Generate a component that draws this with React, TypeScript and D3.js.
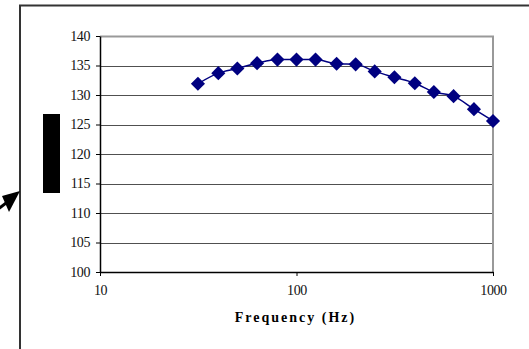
import * as React from 'react';
import * as d3 from 'd3';

// 1/3 octave band centre frequencies (Hz) and measured levels
const frequencies = [31.5, 40, 50, 63, 80, 100, 125, 160, 200, 250, 315, 400, 500, 630, 800, 1000];
const levels = [131.9, 133.7, 134.5, 135.4, 136.0, 136.0, 136.0, 135.3, 135.2, 134.0, 133.0, 132.0, 130.5, 129.8, 127.6, 125.6];
const xTicks = [10, 100, 1000];
const yTicks = [100, 105, 110, 115, 120, 125, 130, 135, 140];

export default function App() {
  const ref = React.useRef<SVGSVGElement>(null);
  const width = 529;
  const height = 349;
  const margin = { top: 36, right: 36, bottom: 77, left: 100 };
  const innerWidth = width - margin.left - margin.right;
  const innerHeight = height - margin.top - margin.bottom;

  React.useEffect(() => {
    const svg = d3.select(ref.current);
    svg.selectAll('*').remove();

    const font = '"Liberation Serif", "Times New Roman", serif';

    // outer frame
    svg.append('rect')
      .attr('x', 20).attr('y', 5.5)
      .attr('width', 540).attr('height', 400)
      .attr('fill', 'white')
      .attr('stroke', '#333').attr('stroke-width', 2);

    // black block on the left
    svg.append('rect')
      .attr('x', 43).attr('y', 114)
      .attr('width', 17).attr('height', 79)
      .attr('fill', 'black');

    // arrow pointing at the frame
    svg.append('line')
      .attr('x1', -6).attr('y1', 212).attr('x2', 14).attr('y2', 197)
      .attr('stroke', 'black').attr('stroke-width', 3);
    svg.append('path')
      .attr('d', 'M20,191 L2,196 L9,212 Z')
      .attr('fill', 'black');

    const xScale = d3.scaleLog().domain([10, 1000]).range([0, innerWidth]);
    const yScale = d3.scaleLinear().domain([100, 140]).range([innerHeight, 0]);

    const g = svg.append('g')
      .attr('transform', `translate(${margin.left}, ${margin.top})`);

    // grid lines
    g.append('g')
      .selectAll('line')
      .data(yTicks.slice(1, -1))
      .enter().append('line')
      .attr('x1', 0).attr('x2', innerWidth)
      .attr('y1', d => Math.round(yScale(d)) + 0.5)
      .attr('y2', d => Math.round(yScale(d)) + 0.5)
      .attr('stroke', '#505050').attr('stroke-width', 1);

    // plot area border (top/right)
    g.append('path')
      .attr('d', `M0,0.5 H${innerWidth} V${innerHeight}`)
      .attr('fill', 'none')
      .attr('stroke', '#999').attr('stroke-width', 2);

    // axes
    const yAxis = d3.axisLeft(yScale).tickValues(yTicks).tickSize(4).tickSizeOuter(0).tickFormat(d3.format('d'));
    const xAxis = d3.axisBottom(xScale).tickValues(xTicks).tickSize(4).tickSizeOuter(0).tickFormat(d3.format('d'));

    const ya = g.append('g').attr('class', 'axis y').call(yAxis);
    const xa = g.append('g').attr('class', 'axis x')
      .attr('transform', `translate(0, ${innerHeight})`)
      .call(xAxis);

    [ya, xa].forEach(a => {
      a.attr('font-family', font).attr('font-size', 14);
      a.select('.domain').attr('stroke', 'black').attr('stroke-width', 1.5);
      a.selectAll('.tick line').attr('stroke', 'black');
      a.selectAll('.tick text')
        .style('font-family', font)
        .style('font-size', '14px')
        .style('letter-spacing', '-0.4px')
        .attr('fill', '#111');
    });
    ya.selectAll('.tick text').attr('x', -10);
    xa.selectAll('.tick text').attr('y', 13);

    // x axis label
    g.append('text')
      .attr('x', innerWidth / 2 - 1)
      .attr('y', innerHeight + 50)
      .attr('text-anchor', 'middle')
      .style('font-family', font)
      .style('font-size', '14px')
      .style('font-weight', 'bold')
      .style('letter-spacing', '2px')
      .text('Frequency (Hz)');

    const points = frequencies.map((f, i) => [f, levels[i]] as [number, number]);

    const line = d3.line<[number, number]>()
      .x(d => xScale(d[0]))
      .y(d => yScale(d[1]))
      .curve(d3.curveMonotoneX);

    g.append('path')
      .datum(points)
      .attr('d', line)
      .attr('fill', 'none')
      .attr('stroke', '#000080')
      .attr('stroke-width', 1.5);

    const symbol = d3.symbol().type(d3.symbolSquare).size(100);
    g.append('g')
      .selectAll('path')
      .data(points)
      .enter().append('path')
      .attr('d', symbol)
      .attr('transform', d => `translate(${xScale(d[0])}, ${yScale(d[1])}) rotate(45)`)
      .attr('fill', '#000080');
  }, []);

  return (
    <svg
      ref={ref}
      width={width}
      height={height}
      style={{ position: 'absolute', left: 0, top: 0, background: 'white' }}
    />
  );
}
